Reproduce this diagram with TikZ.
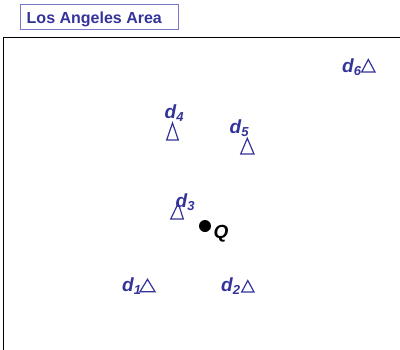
\documentclass[tikz,border=0pt]{standalone}
\usepackage{fontspec}
\setmainfont{Liberation Sans}
\definecolor{lablue}{RGB}{51,51,153}
\definecolor{boxblue}{RGB}{120,120,200}
\newcommand{\mysub}[1]{\raisebox{-3pt}{\fontsize{13}{13}\selectfont #1}}
\begin{document}
\begin{tikzpicture}[x=1pt,y=-1pt,
  lab/.style={text=lablue,font=\fontsize{19}{19}\selectfont\bfseries\itshape,inner sep=0pt,anchor=base west},
  tri/.style={draw=lablue,line width=1.2pt,line join=miter}]
\useasboundingbox (0,0) rectangle (400,349);
% area frame
\draw[line width=1.5pt] (3.5,352) -- (3.5,37.5) -- (402,37.5);
% title
\draw[boxblue,line width=0.9pt] (20.7,4.2) rectangle (178.3,29.3);
\node[text=lablue,font=\fontsize{16}{16}\selectfont\bfseries,inner sep=0pt,anchor=base west] (title) at (26.5,23.3) {Los Angeles Area};
% labels
\node[lab] (d6) at (342,72) {d\mysub{6}};
\node[lab] (d4) at (164.5,118) {d\mysub{4}};
\node[lab] (d5) at (229.5,133) {d\mysub{5}};
\node[lab] (d3) at (175.5,207) {d\mysub{3}};
\node[lab] (d1) at (122,291.7) {d\mysub{1}};
\node[lab] (d2) at (221,291.7) {d\mysub{2}};
% triangles
\draw[tri] (361.7,72) -- (375,72) -- (368.3,59.5) -- cycle;
\draw[tri] (166.7,140) -- (178.3,140) -- (172.5,123) -- cycle;
\draw[tri] (240.7,154) -- (254,154) -- (247.3,138.3) -- cycle;
\draw[tri] (170.7,219) -- (183.3,219) -- (178.3,203.3) -- cycle;
\draw[tri] (140,291.7) -- (155,291.7) -- (147.5,279.3) -- cycle;
\draw[tri] (241.7,292) -- (254,292) -- (247.8,280.5) -- cycle;
% query point
\fill (205,226) circle (6);
\node[lab,text=black] (Q) at (213.5,238.5) {Q};
\end{tikzpicture}
\end{document}
